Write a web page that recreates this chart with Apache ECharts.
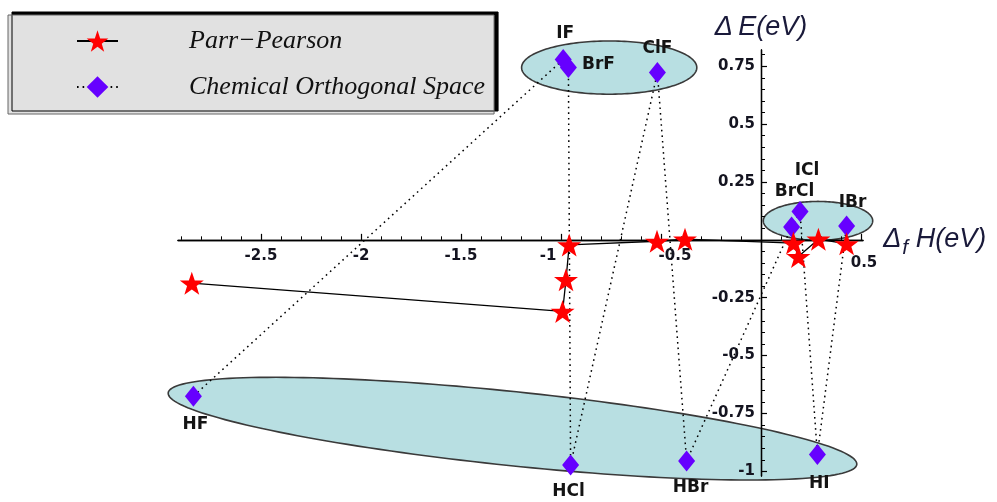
<!DOCTYPE html>
<html><head><meta charset="utf-8">
<script src="https://cdn.jsdelivr.net/npm/echarts@6/dist/echarts.min.js"></script>
<style>html,body{margin:0;padding:0;background:#fff}#c{width:997px;height:502px}</style>
</head><body><div id="c"></div>
<script>
// ---- data ----
const molecules = ['HF', 'IF', 'BrF', 'HCl', 'ClF', 'HBr', 'BrCl', 'ICl', 'HI', 'IBr'];
const dfH_PP  = [-2.846, -0.992, -0.975, -0.959, -0.520, -0.380, 0.162, 0.187, 0.287, 0.428];
const dE_PP   = [-0.187, -0.309, -0.172, -0.022, -0.006, 0.003, -0.014, -0.072, 0.003, -0.017];
const dfH_COS = [-2.838, -0.989, -0.963, -0.952, -0.518, -0.372, 0.153, 0.195, 0.282, 0.428];
const dE_COS  = [-0.675, 0.779, 0.744, -0.972, 0.723, -0.955, 0.055, 0.122, -0.927, 0.060];
const xTickLabels = [-2.5, -2, -1.5, -1, -0.5, 0.5];
const yTickLabels = [-1, -0.75, -0.5, -0.25, 0.25, 0.5, 0.75];
const seriesNames = ['Parr\u2212Pearson', 'Chemical Orthogonal Space'];
// groups of molecules highlighted by ellipses (tips in data coords, half thickness in ΔE units)
const groups = [
  { tips: [[-1.197, 0.744], [-0.321, 0.744]], half: 0.115 },
  { tips: [[0.0115, 0.082], [0.5585, 0.082]], half: 0.084 },
  { tips: [[-2.964, -0.661], [0.479, -0.970]], half: 0.16 }
];

// ---- layout / style ----
const W = 997, H = 502;
const G = { left: 178, right: W - 863, top: 50, bottom: 26 };
const X_MIN = -2.915, X_MAX = 0.51, Y_MIN = -1.02, Y_MAX = 0.82;
// place the axes through the origin (with labels next to them) via offsets
const plotW = W - G.left - G.right, plotH = H - G.top - G.bottom;
const xAxisOffset = -((0 - Y_MIN) / (Y_MAX - Y_MIN)) * plotH;
const yAxisOffset = -((0 - X_MIN) / (X_MAX - X_MIN)) * plotW;

const labelOffsets = {
  HF: [2, 28], IF: [2, -26], BrF: [30, -3], HCl: [-2, 27], ClF: [0, -24],
  HBr: [4, 27], BrCl: [3, -36], ICl: [7, -41], HI: [2, 29], IBr: [6, -23]
};
// [left pad, right pad, top pad] applied to particular x tick labels
const xLabelPad = { '-1': [0, 26, 0], '-0.5': [28, 0, 0], '0.5': [6, 0, 7] };
const starPath = 'path://M50,0 L61.8,35.3 L97.6,35.3 L68.8,57.1 L79.4,91 L50,70.2 L20.6,91 L31.2,57.1 L2.4,35.3 L38.2,35.3 Z';
const tickFont = { fontFamily: 'DejaVu Sans', fontWeight: 'bold', fontSize: 15, color: '#141420' };

function minorValues(lo, hi, step) {
  const out = [];
  for (let k = Math.ceil(lo / step - 1e-9); k * step <= hi + 1e-9; k++) out.push(+(k * step).toFixed(4));
  return out;
}

const xRich = { n: tickFont };
Object.keys(xLabelPad).forEach((k, i) => {
  const p = xLabelPad[k];
  xRich['p' + i] = Object.assign({ padding: [p[2], p[1], 0, p[0]] }, tickFont);
});

const ppData = dfH_PP.map((x, i) => ({ value: [x, dE_PP[i]], name: molecules[i] }));
const cosData = dfH_COS.map((x, i) => ({
  value: [x, dE_COS[i]], name: molecules[i],
  label: { offset: labelOffsets[molecules[i]] }
}));

const axisLineStyle = { color: '#000', width: 1.3 };

const chart = echarts.init(document.getElementById('c'));
chart.setOption({
  animation: false,
  backgroundColor: '#fff',
  grid: { left: G.left, right: G.right, top: G.top, bottom: G.bottom, containLabel: false },
  legend: {
    data: seriesNames,
    orient: 'vertical', left: 8, top: 15,
    padding: [13, 9, 14, 68],
    itemGap: 20, itemWidth: 41, itemHeight: 27,
    backgroundColor: '#e1e1e1', borderColor: '#666', borderWidth: 1,
    shadowColor: '#000', shadowOffsetX: 4, shadowOffsetY: -3, shadowBlur: 0,
    selectedMode: false,
    formatter: n => '{g|}{t|' + n + '}',
    textStyle: {
      rich: {
        g: { width: 66 },
        t: { fontFamily: 'Liberation Serif', fontStyle: 'italic', fontSize: 26, color: '#111' }
      }
    }
  },
  xAxis: [
    {
      type: 'value', min: X_MIN, max: X_MAX, position: 'bottom', offset: xAxisOffset, z: 2,
      axisLine: { show: true, onZero: false, lineStyle: axisLineStyle },
      axisTick: { show: true, inside: true, length: 6, customValues: xTickLabels, lineStyle: { color: '#000', width: 1.2 } },
      axisLabel: {
        show: true, customValues: xTickLabels, margin: 9,
        formatter: v => {
          const s = String(v);
          const keys = Object.keys(xLabelPad);
          const i = keys.indexOf(s);
          return i < 0 ? '{n|' + s + '}' : '{p' + i + '|' + s + '}';
        },
        rich: xRich
      },
      splitLine: { show: false },
      name: '{d|\u0394}{s|f}{h| H(eV)}', nameLocation: 'end', nameGap: 20,
      nameTextStyle: {
        rich: {
          d: { fontFamily: 'Liberation Sans', fontStyle: 'italic', fontSize: 27, color: '#1a1a3a' },
          s: { fontFamily: 'Liberation Sans', fontStyle: 'italic', fontSize: 21, color: '#1a1a3a', padding: [16, 0, 0, 1] },
          h: { fontFamily: 'Liberation Sans', fontStyle: 'italic', fontSize: 27, color: '#1a1a3a' }
        }
      }
    },
    {
      type: 'value', min: X_MIN, max: X_MAX, position: 'bottom', offset: xAxisOffset, z: 2,
      axisLine: { show: true, onZero: false, lineStyle: axisLineStyle },
      axisTick: { show: true, inside: true, length: 3.5, customValues: minorValues(X_MIN, X_MAX, 0.1), lineStyle: { color: '#000', width: 1 } },
      axisLabel: { show: false },
      splitLine: { show: false }
    }
  ],
  yAxis: [
    {
      type: 'value', min: Y_MIN, max: Y_MAX, position: 'left', offset: yAxisOffset, z: 2,
      axisLine: { show: true, onZero: false, lineStyle: axisLineStyle },
      axisTick: { show: true, inside: true, length: 6, customValues: yTickLabels, lineStyle: { color: '#000', width: 1.2 } },
      axisLabel: Object.assign({ show: true, customValues: yTickLabels, margin: 6 }, tickFont),
      splitLine: { show: false },
      name: '\u0394\u2009E(eV)', nameLocation: 'end', nameGap: 9,
      nameTextStyle: { fontFamily: 'Liberation Sans', fontStyle: 'italic', fontSize: 27, color: '#1a1a3a' }
    },
    {
      type: 'value', min: Y_MIN, max: Y_MAX, position: 'left', offset: yAxisOffset, z: 2,
      axisLine: { show: true, onZero: false, lineStyle: axisLineStyle },
      axisTick: { show: true, inside: true, length: 4, customValues: minorValues(Y_MIN, Y_MAX, 0.05), lineStyle: { color: '#000', width: 1 } },
      axisLabel: { show: false },
      splitLine: { show: false }
    }
  ],
  series: [
    {
      type: 'custom', name: 'groups', z: 1, silent: true, clip: false,
      xAxisIndex: 0, yAxisIndex: 0,
      data: groups.map(g => g.tips[0]),
      renderItem: (params, api) => {
        const g = groups[params.dataIndex];
        const p1 = api.coord(g.tips[0]);
        const p2 = api.coord(g.tips[1]);
        const b = Math.abs(api.size([0, g.half])[1]);
        const cx = (p1[0] + p2[0]) / 2, cy = (p1[1] + p2[1]) / 2;
        const dx = p2[0] - p1[0], dy = p2[1] - p1[1];
        const a = Math.sqrt(dx * dx + dy * dy) / 2;
        const ux = dx / (2 * a), uy = dy / (2 * a);
        const vx = -uy, vy = ux;
        const pts = [];
        for (let k = 0; k < 180; k++) {
          const t = k / 180 * Math.PI * 2;
          const ca = a * Math.cos(t), sb = b * Math.sin(t);
          pts.push([cx + ca * ux + sb * vx, cy + ca * uy + sb * vy]);
        }
        return {
          type: 'polygon', shape: { points: pts },
          style: { fill: '#b8dfe2', stroke: '#3a3a3a', lineWidth: 1.6 }
        };
      }
    },
    {
      type: 'line', name: seriesNames[1], z: 3,
      xAxisIndex: 0, yAxisIndex: 0,
      data: cosData,
      symbol: 'diamond', symbolSize: [17, 21],
      itemStyle: { color: '#6600ff' },
      lineStyle: { color: '#000', width: 1.5, type: [1.6, 4] },
      label: {
        show: true, position: 'inside', formatter: p => p.name,
        fontFamily: 'DejaVu Sans', fontWeight: 'bold', fontSize: 17, color: '#141414'
      },
      emphasis: { disabled: true }
    },
    {
      type: 'line', name: seriesNames[0], z: 4,
      xAxisIndex: 0, yAxisIndex: 0,
      data: ppData,
      symbol: starPath, symbolSize: [24, 23],
      itemStyle: { color: '#ff0000' },
      lineStyle: { color: '#000', width: 1.3 },
      emphasis: { disabled: true }
    }
  ]
});
</script>
</body></html>
